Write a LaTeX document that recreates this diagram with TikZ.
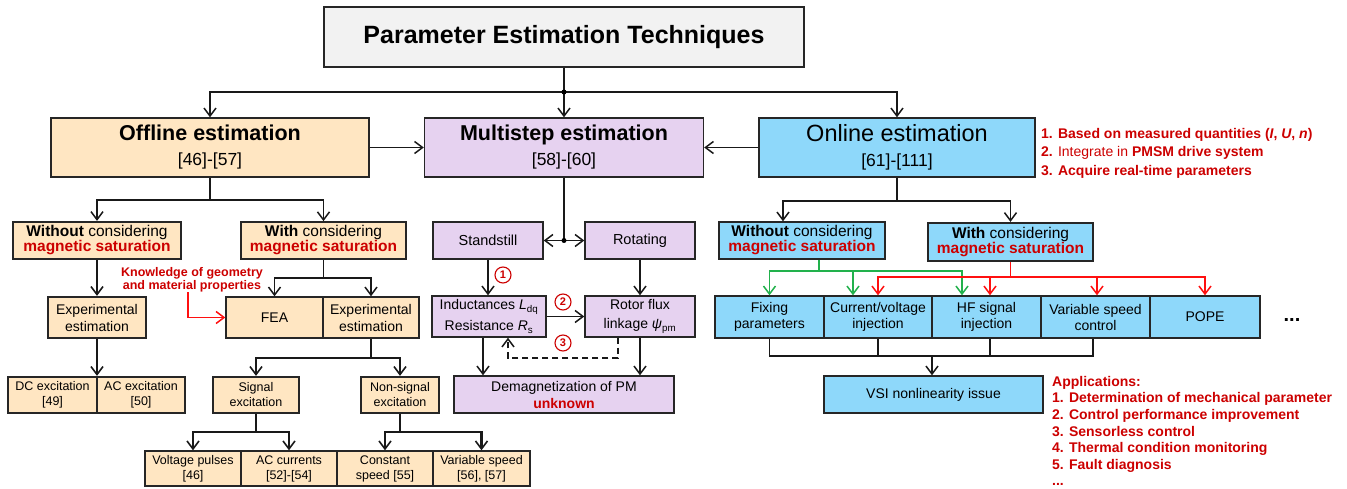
\documentclass[tikz,border=0pt]{standalone}
\usepackage{fontspec}
\setmainfont{Liberation Sans}
\usetikzlibrary{arrows.meta,calc}
\definecolor{peach}{HTML}{FFE6C2}
\definecolor{lav}{HTML}{E6D2F0}
\definecolor{sky}{HTML}{8ED8FA}
\definecolor{tgray}{HTML}{F2F2F2}
\definecolor{dred}{HTML}{CC0000}
\definecolor{lred}{HTML}{FF1010}
\definecolor{lgreen}{HTML}{22B14C}
\newcommand{\myfs}[2]{\fontsize{#1}{#2}\selectfont}
\newcommand{\rd}[1]{\textcolor{dred}{\textbf{#1}}}
\begin{document}
\begin{tikzpicture}[x=1pt,y=-1pt,
  box/.style={draw=black!85, line width=1.4pt, inner sep=0pt, align=center},
  thk/.style={line width=2.3pt},
  offb/.style={box, fill=peach},
  msb/.style={box, fill=lav},
  onb/.style={box, fill=sky},
  wire/.style={line width=1.5pt, draw=black!90},
  arr/.style={wire, -{Straight Barb[length=8pt,width=12pt,line width=1.5pt]}},
  twire/.style={line width=2.1pt, draw=black!90},
  tarr/.style={twire, -{Straight Barb[length=8pt,width=12pt,line width=1.6pt]}},
  rwire/.style={line width=1.7pt, draw=lred},
  rarr/.style={rwire, -{Straight Barb[length=8pt,width=12pt,line width=1.5pt]}},
  gwire/.style={line width=1.7pt, draw=lgreen},
  garr/.style={gwire, -{Straight Barb[length=8pt,width=12pt,line width=1.5pt]}},
  num/.style={circle, draw=dred, line width=1.1pt, inner sep=0pt, minimum size=16pt, text=dred, font=\myfs{11}{11}\bfseries},
  big/.style={font=\myfs{21.5}{25}},
  mid/.style={font=\myfs{15.5}{15}},
  sm/.style={font=\myfs{14}{17}},
  xs/.style={font=\myfs{12.5}{15}}
]
\useasboundingbox (0,0) rectangle (1347,489);

% title
\node[box, fill=tgray, minimum width=480pt, minimum height=60pt, font=\myfs{25}{30}\bfseries] (title) at (564,37) {Parameter Estimation Techniques};

% level 1
\node[offb, big, minimum width=318pt, minimum height=59pt] (off) at (210,147.5) {\textbf{Offline estimation}\\{\myfs{17.5}{25}[46]-[57]}};
\node[msb, big, minimum width=279pt, minimum height=59pt] (multi) at (564,147.5) {\textbf{Multistep estimation}\\{\myfs{17.5}{25}[58]-[60]}};
\node[onb, font=\myfs{23.5}{25}, minimum width=276pt, minimum height=59pt] (on) at (897,147.5) {Online estimation\\{\myfs{17.5}{25}[61]-[111]}};

% offline branch
\node[offb, thk, mid, minimum width=168pt, minimum height=37pt] (offwo) at (97,240.5) {\textbf{Without} considering\\\rd{magnetic saturation}};
\node[offb, mid, line width=1.8pt, minimum width=165pt, minimum height=37pt] (offw) at (323.5,240.5) {\textbf{With} considering\\\rd{magnetic saturation}};
\node[offb, thk, sm, minimum width=98pt, minimum height=41pt] (offexp) at (97,317.5) {Experimental\\estimation};
\node[offb, sm, minimum width=97pt, minimum height=41pt] (fea) at (274.5,317.5) {FEA};
\node[offb, sm, minimum width=96pt, minimum height=41pt] (exp2) at (371,317.5) {Experimental\\estimation};
\node[offb, thk, xs, minimum width=89pt, minimum height=36pt] (dc) at (52.5,395) {DC excitation\\{[49]}};
\node[offb, thk, xs, minimum width=88pt, minimum height=36pt] (ac) at (141,395) {AC excitation\\{[50]}};
\node[offb, thk, xs, minimum width=86pt, minimum height=36pt] (sig) at (256,395) {Signal\\excitation};
\node[offb, thk, xs, minimum width=78pt, minimum height=36pt] (nonsig) at (400,395) {Non-signal\\excitation};
\node[offb, xs, minimum width=96pt, minimum height=35pt] (vp) at (193,468.5) {Voltage pulses\\{[46]}};
\node[offb, xs, minimum width=96pt, minimum height=35pt] (acc) at (289,468.5) {AC currents\\{[52]-[54]}};
\node[offb, xs, minimum width=96pt, minimum height=35pt] (cs) at (385,468.5) {Constant\\speed [55]};
\node[offb, xs, minimum width=97pt, minimum height=35pt] (vs) at (481.5,468.5) {Variable speed\\{[56], [57]}};
\node[font=\myfs{12.5}{13}\bfseries, text=dred, align=center, inner sep=0pt] (know) at (192,279.5) {Knowledge of geometry\\and material properties};

% multistep branch
\node[msb, font=\myfs{14.5}{17}, minimum width=110pt, minimum height=37pt] (stand) at (488,240.5) {Standstill};
\node[msb, font=\myfs{14.5}{17}, minimum width=110pt, minimum height=37pt] (rot) at (640,240.5) {Rotating};
\node[msb, font=\myfs{14}{21}, minimum width=114pt, minimum height=41pt] (ind) at (489,316.5) {Inductances \textit{L}\textsubscript{dq}\\Resistance \textit{R}\textsubscript{s}};
\node[msb, font=\myfs{14}{19}, minimum width=110pt, minimum height=41pt] (rfl) at (640,316.5) {Rotor flux\\linkage \textit{ψ}\textsubscript{pm}};
\node[msb, font=\myfs{14}{17}, minimum width=220pt, minimum height=37pt] (demag) at (564,394.5) {Demagnetization of PM\\\rd{unknown}};
\node[num] (c1) at (503,275) {1};
\node[num] (c2) at (563,302) {2};
\node[num] (c3) at (563,343) {3};

% online branch
\node[onb, mid, minimum width=166pt, minimum height=37pt] (onwo) at (802,240.5) {\textbf{Without} considering\\\rd{magnetic saturation}};
\node[onb, thk, mid, minimum width=165pt, minimum height=38pt] (onw) at (1010.5,242) {\textbf{With} considering\\\rd{magnetic saturation}};
\node[onb, font=\myfs{14}{16}, minimum width=109pt, minimum height=42pt] (fix) at (769.5,317) {Fixing\\parameters};
\node[onb, font=\myfs{14}{16}, minimum width=108pt, minimum height=42pt] (cvi) at (878,317) {Current/voltage\\injection};
\node[onb, font=\myfs{14}{16}, minimum width=109pt, minimum height=42pt] (hf) at (986.5,317) {HF signal\\injection};
\node[onb, font=\myfs{14}{16}, minimum width=109pt, minimum height=42pt] (vsc) at (1095.5,317) {Variable speed\\control};
\node[onb, font=\myfs{14}{16}, minimum width=110pt, minimum height=42pt] (pope) at (1205,317) {POPE};
\node[font=\myfs{20}{20}\bfseries, inner sep=0pt] (dots) at (1292,320) {...};
\node[onb, sm, minimum width=219pt, minimum height=37pt] (vsi) at (933.5,394.5) {VSI nonlinearity issue};

% notes
\node[anchor=west, align=left, text=dred, font=\myfs{14}{18.5}\bfseries, inner sep=0pt] (notes) at (1041,153) {1. Based on measured quantities (\textit{I}, \textit{U}, \textit{n})\\2. {\mdseries Integrate in} PMSM drive system\\3. Acquire real-time parameters};
\node[anchor=north west, align=left, text=dred, font=\myfs{14}{16.6}\bfseries, inner sep=0pt] (apps) at (1052,376) {Applications:\\1. Determination of mechanical parameter\\2. Control performance improvement\\3. Sensorless control\\4. Thermal condition monitoring\\5. Fault diagnosis\\...};

% connectors: title
\coordinate (hy) at (564,92);
\draw[wire] (title.south) -- (hy);
\draw[arr] (hy) -| (off.north);
\draw[arr] (hy) -| (on.north);
\draw[arr] (hy) -- (multi.north);
\fill (hy) circle (2.5);
\draw[arr] (off.east) -- (multi.west);
\draw[arr] (on.west) -- (multi.east);

% offline connectors
\coordinate (oy) at (210,200);
\draw[wire] (off.south) -- (oy);
\draw[arr] (oy) -| (offwo.north);
\draw[arr] (oy) -| (offw.north);
\draw[tarr] (offwo.south) -- (offexp.north);
\coordinate (wy) at (323.5,278);
\draw[wire] (offw.south) -- (wy);
\draw[arr] (wy) -| (fea.north);
\draw[arr] (wy) -| (exp2.north);
\draw[tarr] (offexp.south) -- (offexp.south |- dc.north);
\coordinate (ey) at (371,358);
\draw[wire] (exp2.south) -- (ey);
\draw[tarr] (ey) -| (sig.north);
\draw[tarr] (ey) -| (nonsig.north);
\coordinate (sy) at (256,432);
\draw[wire] (sig.south) -- (sy);
\draw[tarr] (sy) -| (vp.north);
\draw[tarr] (sy) -| (acc.north);
\coordinate (ny) at (400,432);
\draw[wire] (nonsig.south) -- (ny);
\draw[tarr] (ny) -| (cs.north);
\draw[tarr] (ny) -| (vs.north);
\coordinate (k0) at (188,0);
\draw[rarr] (know.south -| k0) |- (fea.west);

% multistep connectors
\coordinate (my) at (564,240.5);
\draw[wire] (multi.south) -- (my);
\draw[arr] (my) -- (stand.east);
\draw[arr] (my) -- (rot.west);
\fill (my) circle (2.5);
\draw[arr] (stand.south) -- (stand.south |- ind.north);
\draw[arr] (rot.south) -- (rfl.north);
\draw[arr] (ind.east) -- (rfl.west);
\coordinate (d1) at (483,0);
\draw[arr] (ind.south -| d1) -- (demag.north -| d1);
\draw[arr] (rfl.south) -- (rfl.south |- demag.north);
\coordinate (q1) at (618,358);
\coordinate (q2) at (508,0);
\draw[arr, dash pattern=on 6pt off 4pt] (rfl.south -| q1) -- (q1) -| (ind.south -| q2);

% online connectors
\coordinate (ny2) at (897,201);
\coordinate (a1) at (783,0);
\draw[wire] (on.south) -- (ny2);
\draw[arr] (ny2) -| (onwo.north -| a1);
\draw[arr] (ny2) -| (onw.north);
\coordinate (gy) at (819,271);
\coordinate (g2) at (853,0);
\coordinate (g3) at (962,0);
\draw[gwire] (onwo.south -| gy) -- (gy);
\draw[garr] (gy) -| (fix.north);
\draw[garr] (gy) -| (cvi.north -| g2);
\draw[garr] (gy) -| (hf.north -| g3);
\coordinate (ry) at (1010.5,277);
\coordinate (r3) at (990,0);
\coordinate (r4) at (1097,0);
\draw[rwire] (onw.south) -- (ry);
\draw[rarr] (ry) -| (cvi.north);
\draw[rarr] (ry) -| (hf.north -| r3);
\draw[rarr] (ry) -| (vsc.north -| r4);
\draw[rarr] (ry) -| (pope.north);
\coordinate (by) at (932,356);
\coordinate (b3) at (990,356);
\coordinate (b4) at (1093,356);
\draw[wire] (fix.south) |- (b4) -- (vsc.south -| b4);
\draw[wire] (cvi.south) -- (cvi.south |- by);
\draw[wire] (hf.south -| b3) -- (b3);
\draw[arr] (by) -- (vsi.north -| by);
\end{tikzpicture}
\end{document}
